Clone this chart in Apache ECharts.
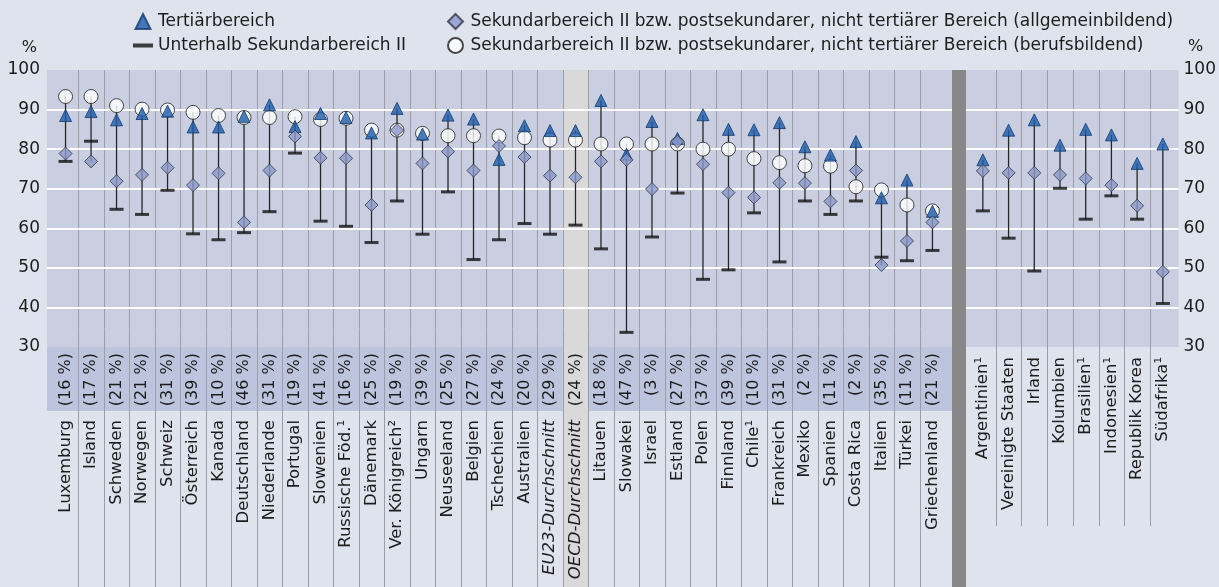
<!DOCTYPE html>
<html>
<head>
<meta charset="utf-8">
<script src="https://cdn.jsdelivr.net/npm/echarts@6/dist/echarts.min.js"></script>
<style>
  html, body { margin: 0; padding: 0; background: #dfe3ee; }
  #chart { width: 1219px; height: 587px; }
</style>
</head>
<body>
<div id="chart"></div>
<script>
  // linke Gruppe (OECD/EU-Länder)
  const categoriesLeft = ['Luxemburg', 'Island', 'Schweden', 'Norwegen', 'Schweiz', 'Österreich', 'Kanada',
    'Deutschland', 'Niederlande', 'Portugal', 'Slowenien', 'Russische Föd.¹', 'Dänemark', 'Ver. Königreich²',
    'Ungarn', 'Neuseeland', 'Belgien', 'Tschechien', 'Australien', 'EU23-Durchschnitt', 'OECD-Durchschnitt',
    'Litauen', 'Slowakei', 'Israel', 'Estland', 'Polen', 'Finnland', 'Chile¹', 'Frankreich', 'Mexiko',
    'Spanien', 'Costa Rica', 'Italien', 'Türkei', 'Griechenland'];
  const sharesLeft = ['(16 %)', '(17 %)', '(21 %)', '(21 %)', '(31 %)', '(39 %)', '(10 %)', '(46 %)', '(31 %)',
    '(19 %)', '(41 %)', '(16 %)', '(25 %)', '(19 %)', '(39 %)', '(25 %)', '(27 %)', '(24 %)', '(20 %)', '(29 %)',
    '(24 %)', '(18 %)', '(47 %)', '(3 %)', '(27 %)', '(37 %)', '(39 %)', '(10 %)', '(31 %)', '(2 %)', '(11 %)',
    '(2 %)', '(35 %)', '(11 %)', '(21 %)'];
  const tertiaryLeft = [88.5, 89.5, 87.4, 89.0, 89.6, 85.6, 85.6, 88.3, 91.2, 85.7, 89.0, 88.0, 84.1, 90.3,
    83.8, 88.6, 87.6, 77.4, 85.9, 84.7, 84.7, 92.3, 78.7, 87.0, 82.7, 88.7, 85.0, 84.9, 86.7, 80.6,
    78.5, 81.9, 67.7, 72.2, 64.3];
  const generalLeft = [78.9, 76.9, 71.9, 73.5, 75.3, 70.9, 73.9, 61.5, 74.6, 83.2, 77.8, 77.7, 65.9, 84.8,
    76.4, 79.4, 74.6, 80.8, 78.0, 73.3, 72.9, 76.9, 77.3, 69.9, 81.9, 76.2, 69.0, 67.8, 71.5, 71.4,
    66.8, 74.6, 50.7, 56.8, 61.5];
  const vocationalLeft = [93.3, 93.3, 91.0, 90.1, 89.9, 89.3, 88.5, 88.0, 88.0, 88.2, 87.5, 87.8, 84.8, 84.8,
    84.0, 83.4, 83.4, 83.3, 82.9, 82.3, 82.3, 81.3, 81.3, 81.3, 81.3, 80.0, 80.0, 77.6, 76.6, 75.8,
    75.7, 70.5, 69.7, 65.9, 64.4];
  const belowLeft = [76.9, 82.0, 64.8, 63.5, 69.6, 58.6, 57.1, 58.9, 64.2, 79.0, 61.8, 60.5, 56.4, 66.9,
    58.5, 69.2, 52.1, 57.1, 61.2, 58.5, 60.8, 54.8, 33.7, 57.8, 68.9, 47.1, 49.5, 63.9, 51.5, 66.9,
    63.5, 66.9, 52.7, 51.8, 54.4];

  // rechte Gruppe (Partnerländer)
  const categoriesRight = ['Argentinien¹', 'Vereinigte Staaten', 'Irland', 'Kolumbien', 'Brasilien¹',
    'Indonesien¹', 'Republik Korea', 'Südafrika¹'];
  const tertiaryRight = [77.3, 84.8, 87.4, 81.0, 85.0, 83.6, 76.4, 81.3];
  const generalRight = [74.5, 74.0, 74.0, 73.5, 72.6, 70.9, 65.7, 49.0];
  const belowRight = [64.4, 57.5, 49.2, 70.1, 62.3, 68.2, 62.3, 41.0];

  const N_TER = 'Tertiärbereich';
  const N_BELOW = 'Unterhalb Sekundarbereich II';
  const N_GEN = 'Sekundarbereich II bzw. postsekundarer, nicht tertiärer Bereich (allgemeinbildend)';
  const N_VOC = 'Sekundarbereich II bzw. postsekundarer, nicht tertiärer Bereich (berufsbildend)';

  const FONT = 'DejaVu Sans';
  const TXT = '#1c1c1c';
  const PANEL = '#c9cfe1';
  const BAND = '#bcc5dd';

  const points = arr => arr.map((v, i) => [i, v]);
  const ranges = lists => lists[0].map((_, i) => {
    const vals = lists.map(l => l[i]).filter(v => v != null);
    return [i, Math.min(...vals), Math.max(...vals)];
  });

  const chart = echarts.init(document.getElementById('chart'));

  function separatorSeries(xi, yi, cats, cut) {
    return {
      type: 'custom', xAxisIndex: xi, yAxisIndex: yi, z: 1, silent: true, clip: false,
      data: cats.slice(1).map((c, k) => [k + 1, 100]),
      renderItem: function (params, api) {
        const p = api.coord([api.value(0), api.value(1)]);
        const w = api.size([1, 0])[0];
        const x = Math.round(p[0] - w / 2) + 0.5;
        return {
          type: 'line',
          shape: { x1: x, y1: p[1], x2: x, y2: api.getHeight() - cut },
          style: { stroke: '#9b9ea6', lineWidth: 1 }
        };
      }
    };
  }

  function rangeSeries(xi, yi, data) {
    return {
      type: 'custom', xAxisIndex: xi, yAxisIndex: yi, z: 2, silent: true,
      data: data,
      renderItem: function (params, api) {
        const a = api.coord([api.value(0), api.value(1)]);
        const b = api.coord([api.value(0), api.value(2)]);
        return {
          type: 'line',
          shape: { x1: a[0], y1: a[1], x2: b[0], y2: b[1] },
          style: { stroke: '#262626', lineWidth: 1.3 }
        };
      }
    };
  }

  const markerStyle = {
    [N_BELOW]: { symbol: 'rect', symbolSize: [14, 3], itemStyle: { color: '#111111' }, z: 3 },
    [N_VOC]: { symbol: 'circle', symbolSize: 14, itemStyle: { color: '#ffffff', borderColor: '#1e1e1e', borderWidth: 1 }, z: 4 },
    [N_TER]: { symbol: 'triangle', symbolSize: 12, itemStyle: { color: '#1f5dab', borderColor: '#123a6e', borderWidth: 1 }, z: 5 },
    [N_GEN]: { symbol: 'diamond', symbolSize: 13, itemStyle: { color: '#8a98c9', borderColor: '#33364a', borderWidth: 1 }, z: 6 }
  };

  function scatter(name, xi, yi, values) {
    return Object.assign({
      type: 'scatter', name: name, xAxisIndex: xi, yAxisIndex: yi, silent: true,
      data: points(values)
    }, markerStyle[name]);
  }

  const oecdIndex = categoriesLeft.indexOf('OECD-Durchschnitt');

  const valueY = (gi, extra) => Object.assign({
    type: 'value', gridIndex: gi, min: 30, max: 100, interval: 10
  }, extra);

  const catLabel = {
    interval: 0, rotate: 90, color: TXT, fontFamily: FONT, fontSize: 16.5
  };

  const legendBase = {
    top: 8, orient: 'vertical', itemGap: 7, itemWidth: 20, itemHeight: 15,
    selectedMode: false, textStyle: { fontSize: 17, color: TXT, fontFamily: FONT }
  };

  chart.setOption({
    backgroundColor: '#dfe3ee',
    animation: false,
    textStyle: { fontFamily: FONT, color: TXT },
    legend: [
      Object.assign({}, legendBase, {
        left: 128,
        data: [
          { name: N_TER, icon: 'path://M6,0L12,12L0,12Z' },
          { name: N_BELOW, icon: 'path://M0,0H20V4H0Z' }
        ]
      }),
      Object.assign({}, legendBase, {
        left: 442,
        data: [
          { name: N_GEN, icon: 'path://M6,0L12,6L6,12L0,6Z' },
          { name: N_VOC, icon: 'circle' }
        ]
      })
    ],
    graphic: [
      { type: 'rect', silent: true, z: 0, shape: { x: 47, y: 347, width: 905, height: 64 }, style: { fill: BAND } },
      { type: 'rect', silent: true, z: 10, shape: { x: 952, y: 70, width: 14, height: 517 }, style: { fill: '#878787' } },
      { type: 'text', silent: true, z: 10, x: 1188, y: 39, style: { text: '%', font: '16px "DejaVu Sans"', fill: TXT } }
    ],
    grid: [
      { left: 47, top: 70, width: 905, height: 277, show: true, backgroundColor: PANEL, borderWidth: 0 },
      { left: 52.8, top: 70, width: 892.4, height: 277 },
      { left: 966, top: 70, width: 216, height: 277, show: true, backgroundColor: PANEL, borderWidth: 0 },
      { left: 970, top: 70, width: 205.7, height: 277 }
    ],
    xAxis: [
      { type: 'value', gridIndex: 0, min: 0, max: 1, show: false },
      {
        type: 'category', gridIndex: 1, data: categoriesLeft, position: 'bottom', z: 3,
        axisLine: { show: false }, axisTick: { show: false }, splitLine: { show: false },
        axisLabel: Object.assign({}, catLabel, {
          margin: 73,
          formatter: v => v.indexOf('Durchschnitt') >= 0 ? '{i|' + v + '}' : v,
          rich: { i: { fontStyle: 'italic', fontFamily: FONT, fontSize: 16.5, color: TXT } }
        })
      },
      {
        type: 'category', gridIndex: 1, data: categoriesLeft, position: 'bottom', offset: 0, z: 3,
        axisLine: { show: false }, axisTick: { show: false }, splitLine: { show: false },
        axisLabel: Object.assign({}, catLabel, { margin: 6, fontSize: 16, formatter: (v, i) => sharesLeft[i] })
      },
      { type: 'value', gridIndex: 2, min: 0, max: 1, show: false },
      {
        type: 'category', gridIndex: 3, data: categoriesRight, position: 'bottom', z: 3,
        axisLine: { show: false }, axisTick: { show: false }, splitLine: { show: false },
        axisLabel: Object.assign({}, catLabel, { margin: 10 })
      }
    ],
    yAxis: [
      valueY(0, {
        z: 1.5, position: 'left',
        name: '%', nameLocation: 'end', nameGap: 14,
        nameTextStyle: { fontSize: 16, color: TXT, fontFamily: FONT, align: 'right', padding: [0, 10, 0, 0] },
        axisLine: { show: false }, axisTick: { show: false },
        axisLabel: { margin: 7, fontSize: 17, color: TXT, fontFamily: FONT },
        splitLine: { show: true, showMinLine: false, showMaxLine: false, lineStyle: { color: '#ffffff', width: 2 } }
      }),
      valueY(1, { show: false }),
      valueY(2, {
        z: 1.5, position: 'right',
        axisLine: { show: false }, axisTick: { show: false },
        axisLabel: { margin: 5, fontSize: 17, color: TXT, fontFamily: FONT },
        splitLine: { show: true, showMinLine: false, showMaxLine: false, lineStyle: { color: '#ffffff', width: 2 } }
      }),
      valueY(3, { show: false })
    ],
    series: [
      {
        // grau hinterlegte Spalte OECD-Durchschnitt
        type: 'custom', xAxisIndex: 1, yAxisIndex: 1, z: 1, silent: true, clip: false,
        data: [[oecdIndex, 100]],
        renderItem: function (params, api) {
          const p = api.coord([api.value(0), api.value(1)]);
          const w = api.size([1, 0])[0];
          return {
            type: 'rect',
            shape: { x: p[0] - w / 2, y: p[1], width: w, height: api.getHeight() - p[1] },
            style: { fill: '#d9d9d9' }
          };
        }
      },
      separatorSeries(1, 1, categoriesLeft, 0),
      separatorSeries(4, 3, categoriesRight, 61),
      rangeSeries(1, 1, ranges([tertiaryLeft, generalLeft, vocationalLeft, belowLeft])),
      rangeSeries(4, 3, ranges([tertiaryRight, generalRight, belowRight])),
      scatter(N_BELOW, 1, 1, belowLeft),
      scatter(N_BELOW, 4, 3, belowRight),
      scatter(N_VOC, 1, 1, vocationalLeft),
      scatter(N_TER, 1, 1, tertiaryLeft),
      scatter(N_TER, 4, 3, tertiaryRight),
      scatter(N_GEN, 1, 1, generalLeft),
      scatter(N_GEN, 4, 3, generalRight)
    ]
  });
</script>
</body>
</html>
